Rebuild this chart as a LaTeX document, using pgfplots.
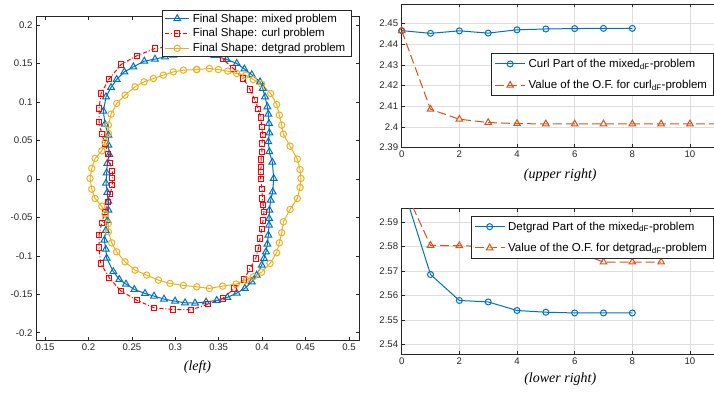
\documentclass[border=0pt]{standalone}
\usepackage{fontspec}
\setmainfont{Liberation Sans}
\newfontfamily\capfont{Liberation Serif}
\usepackage{pgfplots}
\pgfplotsset{compat=1.18}

\definecolor{mblue}{rgb}{0,0.447,0.741}
\definecolor{morange}{rgb}{0.85,0.325,0.098}
\definecolor{myellow}{rgb}{0.929,0.694,0.125}
\definecolor{axgray}{rgb}{0.15,0.15,0.15}
\definecolor{gridgray}{rgb}{0.87,0.87,0.87}

\pgfplotsset{
  panel/.style={
    scale only axis,
    axis line style={axgray, line width=0.5pt},
    tick style={axgray, line width=0.5pt},
    major tick length=3.5pt,
    tick align=inside,
    ticklabel style={font=\fontsize{9.6}{11}\selectfont, text=axgray},
    /pgf/number format/assume math mode=true,
    scaled ticks=false,
    legend style={font=\fontsize{11.5}{13}\selectfont, draw=axgray, line width=0.5pt,
                  fill=white, inner xsep=3pt, inner ysep=1.5pt,
                  nodes={inner xsep=3pt}},
    legend cell align=left,
    xlabel style={font=\capfont\itshape\fontsize{14}{16}\selectfont, anchor=center},
  },
  legline/.style={
    legend image code/.code={\draw[mark repeat=2,mark phase=2,##1]
      plot coordinates {(0pt,0pt) (#1,0pt) (2*#1,0pt)};}
  },
}

\begin{document}
\begin{tikzpicture}
\useasboundingbox (0pt,0pt) rectangle (714pt,392pt);
\clip (0pt,0pt) rectangle (714pt,392pt);

% ---------------- final shapes ----------------
\begin{axis}[panel, legline=12pt,
  at={(36pt,51.3pt)}, anchor=south west, width=323pt, height=324pt,
  xmin=0.1396, xmax=0.5115, ymin=-0.2104, ymax=0.211,
  xtick={0.15,0.2,0.25,0.3,0.35,0.4,0.45,0.5},
  xticklabels={0.15,0.2,0.25,0.3,0.35,0.4,0.45,0.5},
  ytick={-0.2,-0.15,-0.1,-0.05,0,0.05,0.1,0.15,0.2},
  yticklabels={-0.2,-0.15,-0.1,-0.05,0,0.05,0.1,0.15,0.2},
  xlabel={(left)}, xlabel style={at={(axis description cs:0.5,-0.080)}},
  legend style={at={(axis description cs:0.977,1.0207)}, anchor=north east,
                row sep=1pt},
]
\addplot[mblue, line width=1pt, mark=triangle, mark size=3.9pt] coordinates {
(0.3300,0.1630) (0.3130,0.1630) (0.2977,0.1610) (0.2882,0.1588) (0.2766,0.1558)
(0.2643,0.1532) (0.2517,0.1458) (0.2413,0.1393) (0.2325,0.1294) (0.2260,0.1190)
(0.2202,0.1068) (0.2172,0.0882) (0.2190,0.0713) (0.2229,0.0570) (0.2229,0.0440)
(0.2240,0.0319) (0.2217,0.0202) (0.2210,0.0079) (0.2202,-0.0055) (0.2217,-0.0175)
(0.2229,-0.0290) (0.2230,-0.0406) (0.2218,-0.0540) (0.2200,-0.0670) (0.2183,-0.0796)
(0.2200,-0.0915) (0.2210,-0.1030) (0.2286,-0.1205) (0.2355,-0.1307) (0.2432,-0.1368)
(0.2528,-0.1437) (0.2651,-0.1489) (0.2755,-0.1524) (0.2870,-0.1563) (0.2997,-0.1589)
(0.3112,-0.1611) (0.3227,-0.1615) (0.3354,-0.1600) (0.3477,-0.1580) (0.3599,-0.1541)
(0.3707,-0.1485) (0.3800,-0.1424) (0.3880,-0.1338) (0.3937,-0.1251) (0.3995,-0.1121)
(0.4021,-0.1034) (0.4044,-0.0948) (0.4060,-0.0848) (0.4071,-0.0731) (0.4079,-0.0601)
(0.4080,-0.0514) (0.4083,-0.0406) (0.4098,-0.0276) (0.4121,-0.0170) (0.4133,0.0007)
(0.4117,0.0218) (0.4083,0.0353) (0.4071,0.0483) (0.4083,0.0600) (0.4079,0.0722)
(0.4071,0.0843) (0.4060,0.0938) (0.4033,0.1068) (0.4006,0.1177) (0.3975,0.1263)
(0.3880,0.1355) (0.3795,0.1430) (0.3707,0.1502) (0.3592,0.1554) (0.3450,0.1605)
(0.3300,0.1630)};
\addlegendentry{Final Shape: mixed problem}

\addplot[red, line width=1pt, dash pattern=on 4pt off 2pt on 1pt off 2pt,
  mark=square, mark size=2.6pt, mark options={solid}] coordinates {
(0.3380,0.1650) (0.3177,0.1720) (0.2970,0.1725) (0.2766,0.1697) (0.2555,0.1601)
(0.2375,0.1489) (0.2237,0.1298) (0.2145,0.1111) (0.2122,0.0916) (0.2122,0.0743)
(0.2153,0.0583) (0.2191,0.0462) (0.2229,0.0322) (0.2248,0.0209) (0.2275,0.0105)
(0.2275,0.0007) (0.2275,-0.0081) (0.2248,-0.0198) (0.2222,-0.0298) (0.2191,-0.0428)
(0.2153,-0.0571) (0.2122,-0.0731) (0.2122,-0.0891) (0.2141,-0.1099) (0.2240,-0.1286)
(0.2375,-0.1459) (0.2555,-0.1576) (0.2755,-0.1676) (0.2970,-0.1698) (0.3177,-0.1702)
(0.3380,-0.1630) (0.3545,-0.1555) (0.3680,-0.1424) (0.3793,-0.1307) (0.3860,-0.1164)
(0.3926,-0.1034) (0.3956,-0.0904) (0.3975,-0.0774) (0.3995,-0.0650) (0.4010,-0.0540)
(0.4021,-0.0428) (0.4013,-0.0341) (0.4002,-0.0254) (0.3998,-0.0133) (0.3983,-0.0003)
(0.3983,0.0092) (0.3987,0.0157) (0.3987,0.0254) (0.3998,0.0353) (0.3998,0.0462)
(0.4006,0.0570) (0.3995,0.0678) (0.3983,0.0800) (0.3956,0.0908) (0.3918,0.1025)
(0.3860,0.1164) (0.3783,0.1307) (0.3668,0.1437) (0.3546,0.1558) (0.3380,0.1650)};
\addlegendentry{Final Shape: curl problem}

\addplot[myellow, line width=1pt, mark=o, mark size=3.2pt] coordinates {
(0.3246,0.1423) (0.3093,0.1415) (0.2977,0.1393) (0.2862,0.1350) (0.2747,0.1306)
(0.2640,0.1263) (0.2536,0.1198) (0.2421,0.1090) (0.2325,0.0981) (0.2260,0.0843)
(0.2229,0.0700) (0.2229,0.0592) (0.2191,0.0475) (0.2153,0.0365) (0.2076,0.0267)
(0.2038,0.0137) (0.2018,0.0007) (0.2038,-0.0133) (0.2076,-0.0254) (0.2153,-0.0354)
(0.2191,-0.0458) (0.2229,-0.0579) (0.2229,-0.0687) (0.2268,-0.0831) (0.2325,-0.0948)
(0.2421,-0.1078) (0.2536,-0.1186) (0.2670,-0.1251) (0.2805,-0.1316) (0.2939,-0.1359)
(0.3093,-0.1385) (0.3246,-0.1403) (0.3392,-0.1424) (0.3545,-0.1394) (0.3699,-0.1367)
(0.3814,-0.1316) (0.3898,-0.1273) (0.3994,-0.1212) (0.4090,-0.1099) (0.4167,-0.0961)
(0.4198,-0.0831) (0.4225,-0.0700) (0.4244,-0.0558) (0.4321,-0.0397) (0.4405,-0.0254)
(0.4436,-0.0111) (0.4447,0.0007) (0.4436,0.0123) (0.4405,0.0258) (0.4321,0.0427)
(0.4244,0.0583) (0.4225,0.0700) (0.4198,0.0830) (0.4167,0.0968) (0.4098,0.1111)
(0.3994,0.1233) (0.3898,0.1293) (0.3810,0.1350) (0.3707,0.1371) (0.3603,0.1402)
(0.3496,0.1423) (0.3392,0.1436) (0.3246,0.1423)};
\addlegendentry{Final Shape: detgrad problem}
\end{axis}

% ---------------- curl part ----------------
\begin{axis}[panel, legline=15pt,
  at={(401.7pt,244.5pt)}, anchor=south west, width=317.1pt, height=143.5pt,
  xmin=0, xmax=11, ymin=2.39, ymax=2.4595,
  grid=major, major grid style={gridgray, line width=0.5pt},
  xtick={0,2,4,6,8,10},
  ytick={2.39,2.40,2.41,2.42,2.43,2.44,2.45},
  yticklabels={2.39,2.4,2.41,2.42,2.43,2.44,2.45},
  xlabel={(upper right)}, xlabel style={at={(axis description cs:0.5,-0.192)}},
  legend style={at={(axis description cs:0.9827,0.6565)}, anchor=north east,
                row sep=7.5pt, inner ysep=3.5pt},
]
\addplot[mblue, line width=1pt, mark=o, mark size=3pt] coordinates {
(0,2.4466) (1,2.4453) (2,2.4465) (3,2.4454) (4,2.4470)
(5,2.4474) (6,2.4476) (7,2.4477) (8,2.4477)};
\addlegendentry{Curl Part of the mixed\textsubscript{dF}-problem}
\addplot[morange, line width=1pt, dash pattern=on 9pt off 4pt,
  mark=triangle, mark size=3.8pt, mark options={solid}] coordinates {
(0,2.4466) (1,2.4085) (2,2.4037) (3,2.4021) (4,2.4016) (5,2.4014)
(6,2.4014) (7,2.4014) (8,2.4014) (9,2.4014) (10,2.4014) (11,2.4014)};
\addlegendentry{Value of the O.F. for curl\textsubscript{dF}-problem}
\end{axis}

% ---------------- detgrad part ----------------
\begin{axis}[panel, legline=15pt,
  at={(401.7pt,37.7pt)}, anchor=south west, width=317.1pt, height=145.6pt,
  xmin=0, xmax=11, ymin=2.536, ymax=2.5955,
  grid=major, major grid style={gridgray, line width=0.5pt},
  xtick={0,2,4,6,8,10},
  ytick={2.54,2.55,2.56,2.57,2.58,2.59},
  yticklabels={2.54,2.55,2.56,2.57,2.58,2.59},
  xlabel={(lower right)}, xlabel style={at={(axis description cs:0.5,-0.172)}},
  legend style={at={(axis description cs:0.9827,0.950)}, anchor=north east,
                row sep=7.5pt, inner ysep=3.5pt},
]
\addplot[mblue, line width=1pt, mark=o, mark size=3pt] coordinates {
(0,2.6060) (1,2.5686) (2,2.5580) (3,2.5574) (4,2.5539)
(5,2.5532) (6,2.5529) (7,2.5529) (8,2.5529)};
\addlegendentry{Detgrad Part of the mixed\textsubscript{dF}-problem}
\addplot[morange, line width=1pt, dash pattern=on 9pt off 4pt,
  mark=triangle, mark size=3.8pt, mark options={solid}] coordinates {
(0,2.6060) (1,2.5805) (2,2.5804) (3,2.5800) (4,2.5790) (5,2.5785)
(6,2.5782) (7,2.5737) (8,2.5737) (9,2.5737)};
\addlegendentry{Value of the O.F. for detgrad\textsubscript{dF}-problem}
\end{axis}
\end{tikzpicture}
\end{document}
